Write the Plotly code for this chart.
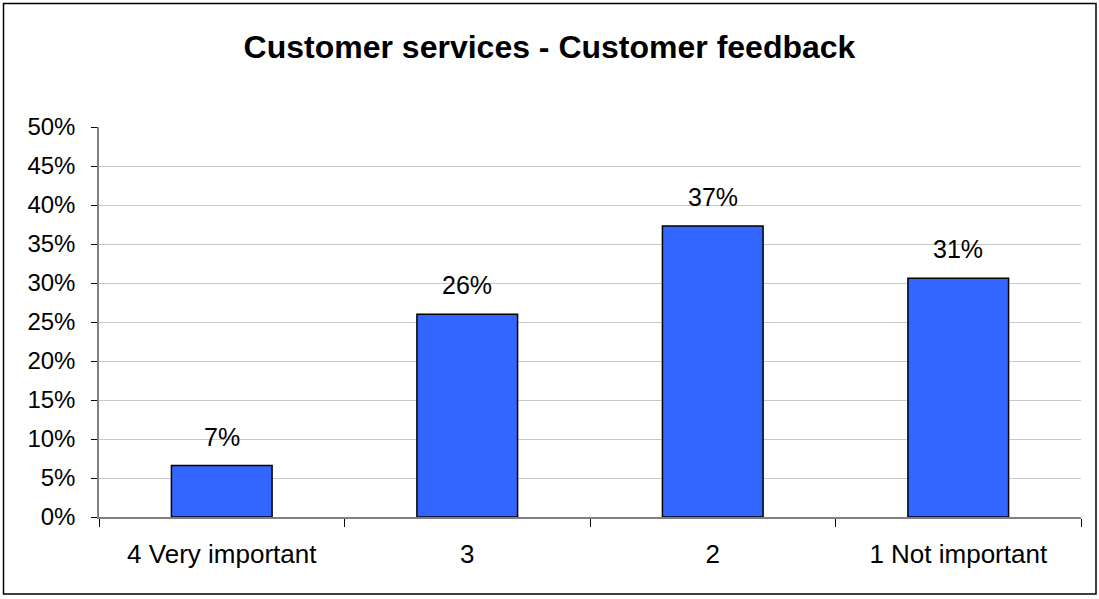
import plotly.graph_objects as go

# Survey responses: share of answers per importance rating
categories = ["4 Very important", "3", "2", "1 Not important"]
shares = [0.066, 0.26, 0.373, 0.306]
y_ticks = [0, 0.05, 0.10, 0.15, 0.20, 0.25, 0.30, 0.35, 0.40, 0.45, 0.50]
y_tick_labels = ["0%", "5%", "10%", "15%", "20%", "25%", "30%", "35%", "40%", "45%", "50%"]
title_text = "Customer services - Customer feedback"

FONT = "Arial, 'Liberation Sans', sans-serif"
W, H = 1099, 599
L, R, T, B = 99, 18, 127, 82

fig = go.Figure()
fig.add_trace(go.Bar(
    x=categories,
    y=shares,
    marker=dict(color="#3366FF", line=dict(color="#000000", width=1.5)),
    hoverinfo="skip",
))

# value labels above each bar (x given as category index)
for i, val in enumerate(shares):
    fig.add_annotation(
        x=i, y=val, xref="x", yref="y",
        text=f"{round(val * 100):d}%",
        showarrow=False, yanchor="bottom", yshift=13,
        font=dict(family=FONT, size=25, color="#000000"),
    )

# outer chart frame
pw, ph = W - L - R, H - T - B
def px_x(p):
    return (p - L) / pw
def px_y(p):
    return (H - B - p) / ph

fig.add_shape(
    type="rect", xref="paper", yref="paper",
    x0=px_x(3.5), x1=px_x(1096), y0=px_y(3.5), y1=px_y(594),
    line=dict(color="#000000", width=1.5), fillcolor="rgba(0,0,0,0)",
    layer="below",
)

fig.update_layout(
    width=W, height=H,
    margin=dict(l=L, r=R, t=T, b=B, pad=0),
    paper_bgcolor="#ffffff",
    plot_bgcolor="#ffffff",
    showlegend=False,
    bargap=0.59,
    title=dict(
        text=f"<b>{title_text}</b>",
        x=0.5, xref="container", xanchor="center",
        y=1 - 47 / H, yref="container", yanchor="middle",
        font=dict(family=FONT, size=32, color="#000000"),
    ),
    font=dict(family=FONT, size=24, color="#000000"),
)

fig.update_xaxes(
    type="category",
    tickson="boundaries",
    ticks="outside", ticklen=8, tickwidth=1, tickcolor="#000000",
    showline=True, linecolor="#808080", linewidth=1.5,
    showgrid=False,
    tickfont=dict(family=FONT, size=26, color="#000000"),
    ticklabelstandoff=13,
)

fig.update_yaxes(
    range=[0, 0.5],
    tickvals=y_ticks, ticktext=y_tick_labels,
    ticks="outside", ticklen=6, tickwidth=1, tickcolor="#000000",
    showline=True, linecolor="#808080", linewidth=1.5,
    showgrid=True, gridcolor="#c8c8c8", gridwidth=1,
    zeroline=False,
    tickfont=dict(family=FONT, size=24, color="#000000"),
    ticklabelstandoff=11,
)

fig.write_html("out.html")
